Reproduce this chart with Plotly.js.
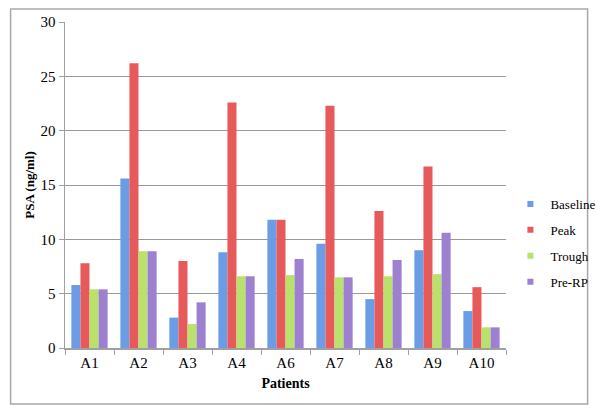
<!DOCTYPE html>
<html>
<head>
<meta charset="utf-8">
<script src="https://cdn.plot.ly/plotly-3.0.1.min.js"></script>
<style>html,body{margin:0;padding:0;background:#fff;}#chart{width:612px;height:413px;}</style>
</head>
<body>
<div id="chart"></div>
<script>
const patients = ["A1","A2","A3","A4","A6","A7","A8","A9","A10"];
const baseline = [5.8, 15.6, 2.8, 8.8, 11.8, 9.6, 4.5, 9.0, 3.4];
const peak     = [7.8, 26.2, 8.0, 22.6, 11.8, 22.3, 12.6, 16.7, 5.6];
const trough   = [5.4, 8.9, 2.2, 6.6, 6.7, 6.5, 6.6, 6.8, 1.9];
const preRP    = [5.4, 8.9, 4.2, 6.6, 8.2, 6.5, 8.1, 10.6, 1.9];
const seriesNames = ["Baseline","Peak","Trough","Pre-RP"];
const seriesValues = [baseline, peak, trough, preRP];
const seriesColors = ["#6b9de6","#e65a5c","#b9e16c","#9d80cf"];
const yTicks = [0,5,10,15,20,25,30];

const bars = seriesNames.map((n,i)=>({
  type:'bar', name:n, x:patients, y:seriesValues[i], showlegend:false,
  marker:{color:seriesColors[i], line:{width:0}}
}));
// legend-only entries with small square swatches
const legendEntries = seriesNames.map((n,i)=>({
  type:'scatter', mode:'markers', name:n, x:[null], y:[null], showlegend:true,
  legendgroup:'g'+i,
  marker:{symbol:'square', size:6, color:seriesColors[i]}
}));

const W=612,H=413,L=65,R=93,T=22,B=65;
const pw=W-L-R, ph=H-T-B;
const px = v => (v-L)/pw;
const py = v => (H-B-v)/ph;
const FONT = 'Liberation Serif';

const layout = {
  width:W, height:H,
  margin:{l:L,r:R,t:T,b:B},
  paper_bgcolor:'#ffffff', plot_bgcolor:'#ffffff',
  barmode:'group', bargap:0.26, bargroupgap:0,
  font:{family:FONT, size:13, color:'#000'},
  showlegend:true,
  legend:{x:1.01, xanchor:'left', y:py(243), yanchor:'middle', font:{family:FONT, size:13},
          tracegroupgap:6, bgcolor:'rgba(0,0,0,0)'},
  xaxis:{
    type:'category', showgrid:false, showline:true, linecolor:'#a0a0a0', linewidth:1.5,
    ticks:'outside', tickson:'boundaries', ticklen:5, tickcolor:'#a0a0a0',
    tickfont:{family:FONT, size:15}, title:{text:'<b>Patients</b>', font:{family:FONT, size:14}, standoff:8}
  },
  yaxis:{
    range:[0,30], tickvals:yTicks, showgrid:true, gridcolor:'#9a9a9a', gridwidth:1,
    showline:true, linecolor:'#a0a0a0', linewidth:1.5, zeroline:false,
    ticks:'outside', ticklen:5, tickcolor:'#a0a0a0', tickfont:{family:FONT, size:15},
    title:{text:'<b>PSA (ng/ml)</b>', font:{family:FONT, size:13}, standoff:3}
  },
  shapes:[{type:'rect', xref:'paper', yref:'paper',
    x0:px(9), x1:px(603), y0:py(404), y1:py(9),
    line:{color:'#a8a8a8', width:1.5}, fillcolor:'rgba(0,0,0,0)', layer:'above'}]
};

Plotly.newPlot('chart', bars.concat(legendEntries), layout, {displayModeBar:false, staticPlot:true});
</script>
</body>
</html>
